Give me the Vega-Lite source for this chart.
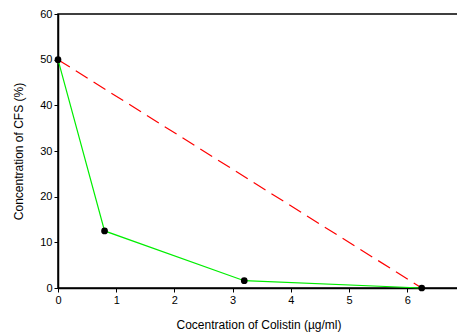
{
  "$schema": "https://vega.github.io/schema/vega-lite/v6.json",
  "autosize": "none",
  "width": 401,
  "height": 274,
  "padding": {"left": 58, "top": 14, "right": 0, "bottom": 44},
  "background": "white",
  "config": {
    "view": {"stroke": "black", "strokeWidth": 1.5},
    "font": "Liberation Sans",
    "axis": {
      "grid": false,
      "domainColor": "black",
      "domainWidth": 1.5,
      "tickColor": "black",
      "tickSize": 4,
      "labelFlush": false,
      "labelFont": "Liberation Sans",
      "labelFontSize": 11,
      "labelColor": "black",
      "titleFont": "Liberation Sans",
      "titleFontSize": 12,
      "titleFontWeight": "normal",
      "titleColor": "black"
    }
  },
  "datasets": {
    "green": [
      {"x": 0, "y": 50},
      {"x": 0.8, "y": 12.5},
      {"x": 3.2, "y": 1.6},
      {"x": 6.25, "y": 0}
    ],
    "red": [
      {"x": 0, "y": 50},
      {"x": 6.25, "y": 0}
    ]
  },
  "layer": [
    {
      "data": {"name": "red"},
      "mark": {"type": "line", "color": "#ff0000", "strokeWidth": 1.2, "strokeDash": [14, 7]},
      "encoding": {
        "x": {"field": "x", "type": "quantitative", "scale": {"domain": [0, 6.89], "nice": false},
          "axis": {"values": [0, 1, 2, 3, 4, 5, 6], "format": "d", "title": "Cocentration of Colistin (µg/ml)", "titlePadding": 14}},
        "y": {"field": "y", "type": "quantitative", "scale": {"domain": [0, 60], "nice": false},
          "axis": {"values": [0, 10, 20, 30, 40, 50, 60], "format": "d", "title": "Concentration of CFS (%)", "titlePadding": 14}}
      }
    },
    {
      "data": {"name": "green"},
      "mark": {"type": "line", "color": "#00ee00", "strokeWidth": 1.2},
      "encoding": {
        "x": {"field": "x", "type": "quantitative"},
        "y": {"field": "y", "type": "quantitative"}
      }
    },
    {
      "data": {"name": "green"},
      "mark": {"type": "point", "filled": true, "color": "black", "size": 45, "opacity": 1},
      "encoding": {
        "x": {"field": "x", "type": "quantitative"},
        "y": {"field": "y", "type": "quantitative"}
      }
    }
  ]
}
